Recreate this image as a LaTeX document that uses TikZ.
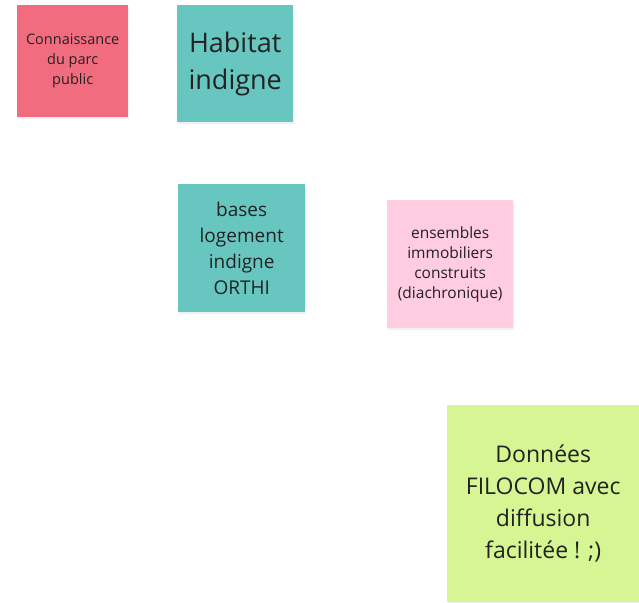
\documentclass[tikz,border=0pt]{standalone}
\usepackage{fontspec}
\setmainfont{Open Sans}
\usepackage{xcolor}
\usetikzlibrary{positioning,shadows}

\definecolor{notered}{HTML}{F16C7F}
\definecolor{noteteal}{HTML}{67C7C0}
\definecolor{notepink}{HTML}{FFCCE0}
\definecolor{notegreen}{HTML}{D5F692}
\definecolor{notetext}{HTML}{222222}

\begin{document}
\begin{tikzpicture}[x=1pt,y=-1pt]
	\tikzstyle{note}
	  =[rectangle, anchor=north west, inner sep=0pt, align=center,
	  text=notetext, drop shadow={opacity=0.12, shadow xshift=1pt, shadow yshift=-1.5pt}]
	\tikzstyle{note-s}
	  =[note, font=\fontsize{14.5}{20}\selectfont]

	\useasboundingbox (0,0) rectangle (639,602);

	\node[note-s, fill=notered, minimum width=111pt, minimum height=112pt] (parc)
	  at (17,5) {Connaissance\\du parc\\public};
	\node[note, fill=noteteal, minimum width=116pt, minimum height=117pt,
	  font=\fontsize{27}{37}\selectfont] (habitat)
	  at (177,5) {Habitat\\indigne};
	\node[note, fill=noteteal, minimum width=127pt, minimum height=128pt,
	  font=\fontsize{19}{26}\selectfont] (orthi)
	  at (178,184) {bases\\logement\\indigne\\ORTHI};
	\node[note, fill=notepink, minimum width=126pt, minimum height=128pt,
	  font=\fontsize{15.5}{20}\selectfont] (ensembles)
	  at (387,200) {ensembles\\immobiliers\\construits\\(diachronique)};
	\node[note, fill=notegreen, minimum width=192pt, minimum height=197pt,
	  font=\fontsize{23}{32}\selectfont] (filocom)
	  at (447,405) {Données\\FILOCOM avec\\diffusion\\facilitée ! ;)};
\end{tikzpicture}
\end{document}
